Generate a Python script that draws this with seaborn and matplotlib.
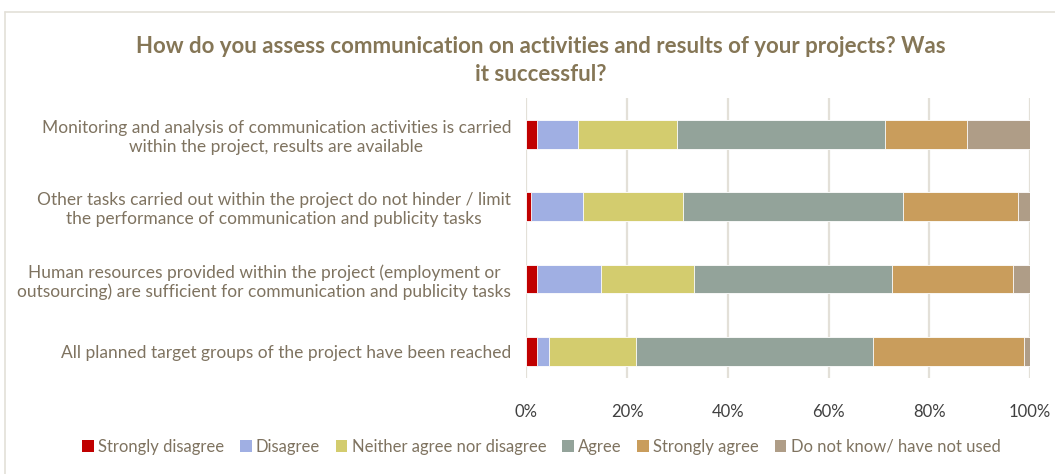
import matplotlib
matplotlib.use("Agg")
import matplotlib.pyplot as plt
from matplotlib.patches import Patch
from matplotlib.lines import Line2D
import pandas as pd
import seaborn as sns

categories = [
    "Monitoring and analysis of communication activities is carried\nwithin the project, results are available",
    "Other tasks carried out within the project do not hinder / limit\nthe performance of communication and publicity tasks",
    "Human resources provided within the project (employment or\noutsourcing) are sufficient for communication and publicity tasks",
    "All planned target groups of the project have been reached",
]
series_names = [
    "Strongly disagree",
    "Disagree",
    "Neither agree nor disagree",
    "Agree",
    "Strongly agree",
    "Do not know/ have not used",
]
strongly_disagree = [2.1, 1.0, 2.1, 2.1]
disagree = [8.1, 10.3, 12.7, 2.4]
neither = [19.6, 19.7, 18.4, 17.2]
agree = [41.5, 43.7, 39.3, 47.2]
strongly_agree = [16.1, 23.0, 24.1, 30.0]
dont_know = [12.6, 2.3, 3.4, 1.1]
x_ticks = [0, 20, 40, 60, 80, 100]
x_tick_labels = ["0%", "20%", "40%", "60%", "80%", "100%"]
title = "How do you assess communication on activities and results of your projects? Was\nit successful?"

colors = ["#C00000", "#A0AFE3", "#D3CC6E", "#93A39A", "#C99D5C", "#AF9D87"]
series_values = [strongly_disagree, disagree, neither, agree, strongly_agree, dont_know]

sns.set_theme(style="white")
plt.rcParams["font.family"] = ["Lato", "DejaVu Sans"]

# cumulative totals for stacking: draw the longest first, shorter ones on top
rows = []
running = [0.0] * len(categories)
for name, vals in zip(series_names, series_values):
    running = [r + v for r, v in zip(running, vals)]
    for cat, c in zip(categories, running):
        rows.append({"category": cat, "series": name, "cumulative": c})
df = pd.DataFrame(rows)

fig = plt.figure(figsize=(10.55, 4.74), dpi=100)
ax = fig.add_axes([0.499, 0.2025, 0.4773, 0.5907])

for name, color in reversed(list(zip(series_names, colors))):
    sub = df[df["series"] == name]
    sns.barplot(data=sub, y="category", x="cumulative", order=categories,
                color=color, saturation=1, width=0.4, orient="h", ax=ax,
                edgecolor="white", linewidth=0.6, zorder=3)

ax.set_xlim(0, 100)
ax.set_ylim(3.37, -0.505)
ax.set_xticks(x_ticks)
ax.set_xticklabels(x_tick_labels, color="#404040", fontsize=12)
ax.xaxis.grid(True, color="#E3E0D8", linewidth=1.6, zorder=0)
ax.yaxis.grid(False)
ax.set_axisbelow(True)
for s in ax.spines.values():
    s.set_visible(False)
ax.tick_params(axis="x", length=0, pad=19)
ax.tick_params(axis="y", length=0, pad=11)
for lbl in ax.get_yticklabels():
    lbl.set_multialignment("center")
    lbl.set_color("#7F7360")
    lbl.set_fontsize(12.5)
ax.set_xlabel("")
ax.set_ylabel("")

fig.text(0.513, 0.925, title, ha="center", va="top", fontsize=16,
         fontweight="bold", color="#857656", linespacing=1.45)

handles = [Patch(facecolor=c, edgecolor="none", label=n) for n, c in zip(series_names, colors)]
fig.legend(handles=handles, loc="center", bbox_to_anchor=(0.513, 0.058), ncol=6,
           frameon=False, fontsize=12, handlelength=0.7, handleheight=0.7,
           handletextpad=0.25, columnspacing=0.95, labelcolor="#7F7360")

# outer chart border
fig.add_artist(Line2D([5 / 1055, 1.0], [1 - 12 / 474, 1 - 12 / 474],
                      transform=fig.transFigure, color="#E3E0D8", linewidth=1.2))
fig.add_artist(Line2D([5 / 1055, 5 / 1055], [0.0, 1 - 12 / 474],
                      transform=fig.transFigure, color="#E3E0D8", linewidth=1.2))

fig.savefig("out.png", dpi=100)
